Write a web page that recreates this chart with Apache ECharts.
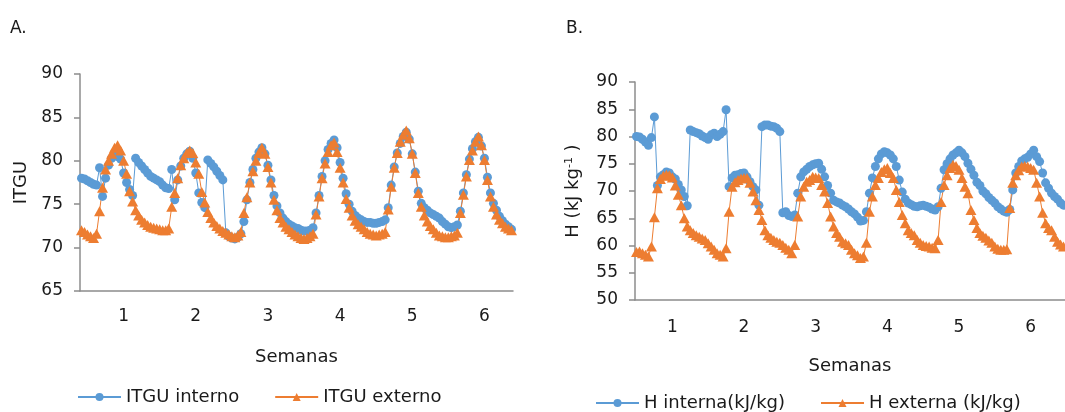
<!DOCTYPE html>
<html><head><meta charset="utf-8">
<script src="https://cdn.jsdelivr.net/npm/echarts@6/dist/echarts.min.js"></script>
<style>html,body{margin:0;padding:0;background:#fff}#c{width:1065px;height:412px}</style>
</head><body><div id="c"></div>
<script>
// ---- data ----
const weekLabels = ['1', '2', '3', '4', '5', '6'];
const hoursPerWeek = 24;

// Panel A: ITGU (24 values per week)
const itguInterno = [
  78.0, 77.9, 77.7, 77.5, 77.3, 77.2, 79.2, 75.9, 78.0, 79.5, 80.3, 80.6, 80.5, 80.2, 78.6, 77.5, 76.7, 76.0, 80.3, 79.8, 79.4, 79.0, 78.6, 78.2,
  78.0, 77.8, 77.6, 77.2, 76.9, 76.8, 79.0, 75.5, 77.8, 79.4, 80.3, 80.8, 81.1, 80.3, 78.6, 76.3, 75.2, 74.6, 80.1, 79.7, 79.3, 78.8, 78.3, 77.8,
  71.7, 71.3, 71.1, 71.0, 71.2, 71.6, 73.0, 75.5, 77.5, 79.0, 80.3, 81.0, 81.5, 80.8, 79.5, 77.8, 76.0, 74.8, 74.0, 73.4, 73.0, 72.7, 72.5, 72.3,
  72.2, 72.0, 71.9, 71.9, 72.0, 72.3, 74.0, 76.0, 78.2, 80.0, 81.3, 82.0, 82.4, 81.5, 79.8, 78.0, 76.2, 75.0, 74.2, 73.7, 73.4, 73.2, 73.0, 72.9,
  72.9, 72.8, 72.8, 72.9, 73.0, 73.2, 74.6, 77.2, 79.3, 80.9, 82.0, 82.8, 83.3, 82.5, 80.8, 78.7, 76.5, 75.1, 74.6, 74.3, 74.0, 73.8, 73.6, 73.4,
  73.0, 72.7, 72.4, 72.3, 72.4, 72.6, 74.2, 76.3, 78.4, 80.2, 81.4, 82.2, 82.7, 81.7, 80.3, 78.1, 76.3, 75.1, 74.3, 73.6, 73.1, 72.7, 72.4, 72.1
];
const itguExterno = [
  72.0, 71.8, 71.5, 71.3, 71.1, 71.6, 74.2, 76.9, 79.0, 80.0, 80.8, 81.5, 81.8, 81.2, 80.0, 78.5, 76.5, 75.3, 74.3, 73.7, 73.2, 72.9, 72.6, 72.4,
  72.3, 72.2, 72.1, 72.0, 72.0, 72.2, 74.7, 76.3, 78.0, 79.5, 80.3, 80.9, 81.2, 80.9, 79.8, 78.5, 76.4, 75.2, 74.1, 73.4, 72.9, 72.5, 72.2, 71.9,
  71.7, 71.5, 71.3, 71.2, 71.4, 71.8, 74.0, 75.8, 77.5, 78.8, 80.0, 80.9, 81.5, 80.8, 79.3, 77.5, 75.5, 74.3, 73.4, 72.9, 72.4, 72.1, 71.8, 71.5,
  71.3, 71.1, 71.0, 71.1, 71.3, 71.6, 73.8, 75.9, 78.0, 79.7, 81.0, 81.8, 82.1, 81.0, 79.2, 77.5, 75.6, 74.6, 73.7, 73.1, 72.7, 72.4, 72.1, 71.8,
  71.6, 71.5, 71.4, 71.5, 71.6, 71.8, 74.4, 77.0, 79.2, 80.9, 82.2, 83.0, 83.5, 82.6, 80.8, 78.6, 76.3, 74.7, 73.7, 73.0, 72.5, 72.1, 71.7, 71.4,
  71.3, 71.2, 71.2, 71.3, 71.4, 71.7, 74.0, 76.1, 78.2, 80.1, 81.2, 82.2, 82.8, 81.8, 80.1, 77.8, 75.9, 74.7, 73.8, 73.2, 72.8, 72.4, 72.2, 72.0
];

// Panel B: enthalpy H (kJ/kg)
const hInterna = [
  80.0, 79.9, 79.5, 79.0, 78.4, 79.8, 83.6, 71.0, 72.6, 73.0, 73.5, 73.3, 72.6, 72.2, 71.2, 70.2, 69.0, 67.3, 81.2, 80.9, 80.7, 80.5, 80.1, 79.8,
  79.5, 80.3, 80.6, 80.0, 80.4, 80.9, 84.9, 70.8, 72.4, 72.9, 73.0, 73.2, 73.3, 72.6, 71.7, 70.8, 70.2, 67.4, 81.8, 82.1, 82.1, 81.9, 81.8, 81.5,
  80.9, 66.0, 66.2, 65.5, 65.3, 65.6, 69.6, 72.6, 73.5, 74.0, 74.5, 74.8, 75.0, 75.1, 74.0, 72.6, 71.0, 69.6, 68.3, 68.0, 67.8, 67.4, 67.1, 66.7,
  66.2, 65.8, 65.2, 64.5, 64.6, 66.2, 69.6, 72.4, 74.5, 75.9, 76.8, 77.2, 77.0, 76.6, 75.9, 74.5, 72.0, 69.8, 68.5, 67.8, 67.5, 67.2, 67.1, 67.3,
  67.4, 67.2, 67.0, 66.7, 66.5, 67.1, 70.5, 73.9, 75.0, 75.9, 76.6, 77.0, 77.5, 77.0, 76.3, 75.1, 74.0, 72.9, 71.6, 71.0, 70.0, 69.5, 68.8, 68.3,
  67.8, 67.1, 66.7, 66.3, 66.1, 66.6, 70.2, 73.3, 74.5, 75.5, 75.9, 76.2, 76.8, 77.5, 76.3, 75.4, 73.3, 71.5, 70.5, 69.6, 69.0, 68.5, 67.8, 67.4
];
const hExterna = [
  58.8, 58.9, 58.6, 58.3, 58.0, 59.8, 65.2, 70.5, 72.2, 72.8, 73.0, 72.9, 72.5, 71.0, 69.3, 67.4, 65.0, 63.5, 62.8, 62.3, 61.9, 61.6, 61.3, 61.0,
  60.4, 59.8, 59.2, 58.6, 58.3, 58.0, 59.5, 66.2, 70.8, 71.6, 72.0, 72.3, 72.4, 72.4, 71.5, 69.9, 68.3, 66.5, 64.7, 62.8, 61.9, 61.4, 61.0, 60.7,
  60.5, 60.1, 59.6, 59.2, 58.6, 60.1, 65.3, 69.0, 70.8, 71.7, 72.0, 72.6, 72.5, 72.4, 71.1, 69.9, 67.8, 65.3, 63.5, 62.3, 61.6, 60.7, 60.4, 60.1,
  59.2, 58.6, 58.2, 57.7, 58.0, 60.5, 66.2, 69.0, 71.1, 72.4, 73.5, 74.0, 74.2, 73.3, 72.4, 70.2, 68.0, 65.6, 64.1, 62.8, 62.3, 61.9, 61.0, 60.5,
  60.1, 59.9, 59.8, 59.6, 59.5, 61.0, 68.0, 71.1, 72.9, 74.2, 74.8, 74.6, 73.9, 72.4, 70.8, 69.6, 66.5, 64.7, 63.2, 62.3, 61.8, 61.4, 60.9, 60.5,
  59.8, 59.4, 59.2, 59.2, 59.3, 66.9, 71.5, 72.9, 73.8, 74.5, 74.6, 74.5, 74.2, 73.9, 71.5, 69.0, 66.0, 64.1, 63.2, 62.8, 61.6, 60.7, 60.2, 59.8
];

const legendA = ['ITGU interno', 'ITGU externo'];
const legendB = ['H interna(kJ/kg)', 'H externa (kJ/kg)'];

// categories: one per hour slot, labelled by week
const categories = [];
weekLabels.forEach(w => { for (let h = 0; h < hoursPerWeek; h++) categories.push(w + ':' + h); });

// ---- styles ----
const FONT = 'DejaVu Sans';
const TXT = '#1a1a1a';
const AX = '#8c8c8c';
const BLUE = '#5B9BD5';
const ORANGE = '#ED7D31';

function xAxisFor(gridIndex, labelSlot, labelMargin, nameGap) {
  return {
    type: 'category', gridIndex, data: categories, boundaryGap: true,
    axisLine: { lineStyle: { color: AX, width: 1.5 } },
    axisTick: { show: false },
    axisLabel: {
      interval: (idx) => idx % hoursPerWeek === labelSlot,
      formatter: (v) => v.split(':')[0],
      color: TXT, fontFamily: FONT, fontSize: 17, margin: labelMargin
    },
    name: 'Semanas', nameLocation: 'middle', nameGap,
    nameTextStyle: { color: TXT, fontFamily: FONT, fontSize: 18 },
    splitLine: { show: false }
  };
}
function yAxisFor(gridIndex, min, max, name, nameGap) {
  return {
    type: 'value', gridIndex, min, max, interval: 5,
    axisLine: { show: true, lineStyle: { color: AX, width: 1.5 } },
    axisTick: { show: true, inside: false, length: 6, lineStyle: { color: AX, width: 1.5 } },
    axisLabel: { color: TXT, fontFamily: FONT, fontSize: 17, margin: 17 },
    splitLine: { show: false },
    name, nameLocation: 'middle', nameGap,
    nameTextStyle: {
      color: TXT, fontFamily: FONT, fontSize: 18,
      rich: { sup: { fontSize: 11, verticalAlign: 'top', padding: [0, 0, 8, 0], color: TXT, fontFamily: FONT } }
    }
  };
}
function lineSeries(name, data, xi, yi, symbol, size, color) {
  return {
    name, type: 'line', xAxisIndex: xi, yAxisIndex: yi, data,
    symbol, symbolSize: size, showSymbol: true, showAllSymbol: true,
    itemStyle: { color }, lineStyle: { color, width: 1 },
    emphasis: { disabled: true }, animation: false
  };
}

const chart = echarts.init(document.getElementById('c'), null, { renderer: 'canvas' });
chart.setOption({
  backgroundColor: '#ffffff',
  animation: false,
  title: [
    { text: 'A.', left: 10, top: 20, padding: 0, textStyle: { color: TXT, fontFamily: FONT, fontSize: 17, fontWeight: 'normal' } },
    { text: 'B.', left: 566, top: 20, padding: 0, textStyle: { color: TXT, fontFamily: FONT, fontSize: 17, fontWeight: 'normal' } }
  ],
  grid: [
    { left: 80, top: 74, width: 433, height: 217 },
    { left: 635, top: 82, width: 433, height: 218 }
  ],
  xAxis: [xAxisFor(0, 14, 17, 57), xAxisFor(1, 12, 19, 57)],
  yAxis: [yAxisFor(0, 65, 90, 'ITGU', 50), yAxisFor(1, 50, 90, 'H (kJ kg{sup|-1} )', 52)],
  legend: [
    { data: legendA, left: 77, top: 388, itemWidth: 43, itemHeight: 10, itemGap: 35, padding: 0,
      textStyle: { color: TXT, fontFamily: FONT, fontSize: 18 } },
    { data: legendB, left: 595, top: 394, itemWidth: 43, itemHeight: 10, itemGap: 35, padding: 0,
      textStyle: { color: TXT, fontFamily: FONT, fontSize: 18 } }
  ],
  series: [
    lineSeries(legendA[0], itguInterno, 0, 0, 'circle', 9, BLUE),
    lineSeries(legendA[1], itguExterno, 0, 0, 'triangle', [11, 10], ORANGE),
    lineSeries(legendB[0], hInterna, 1, 1, 'circle', 9, BLUE),
    lineSeries(legendB[1], hExterna, 1, 1, 'triangle', [11, 10], ORANGE)
  ]
});
</script>
</body></html>
